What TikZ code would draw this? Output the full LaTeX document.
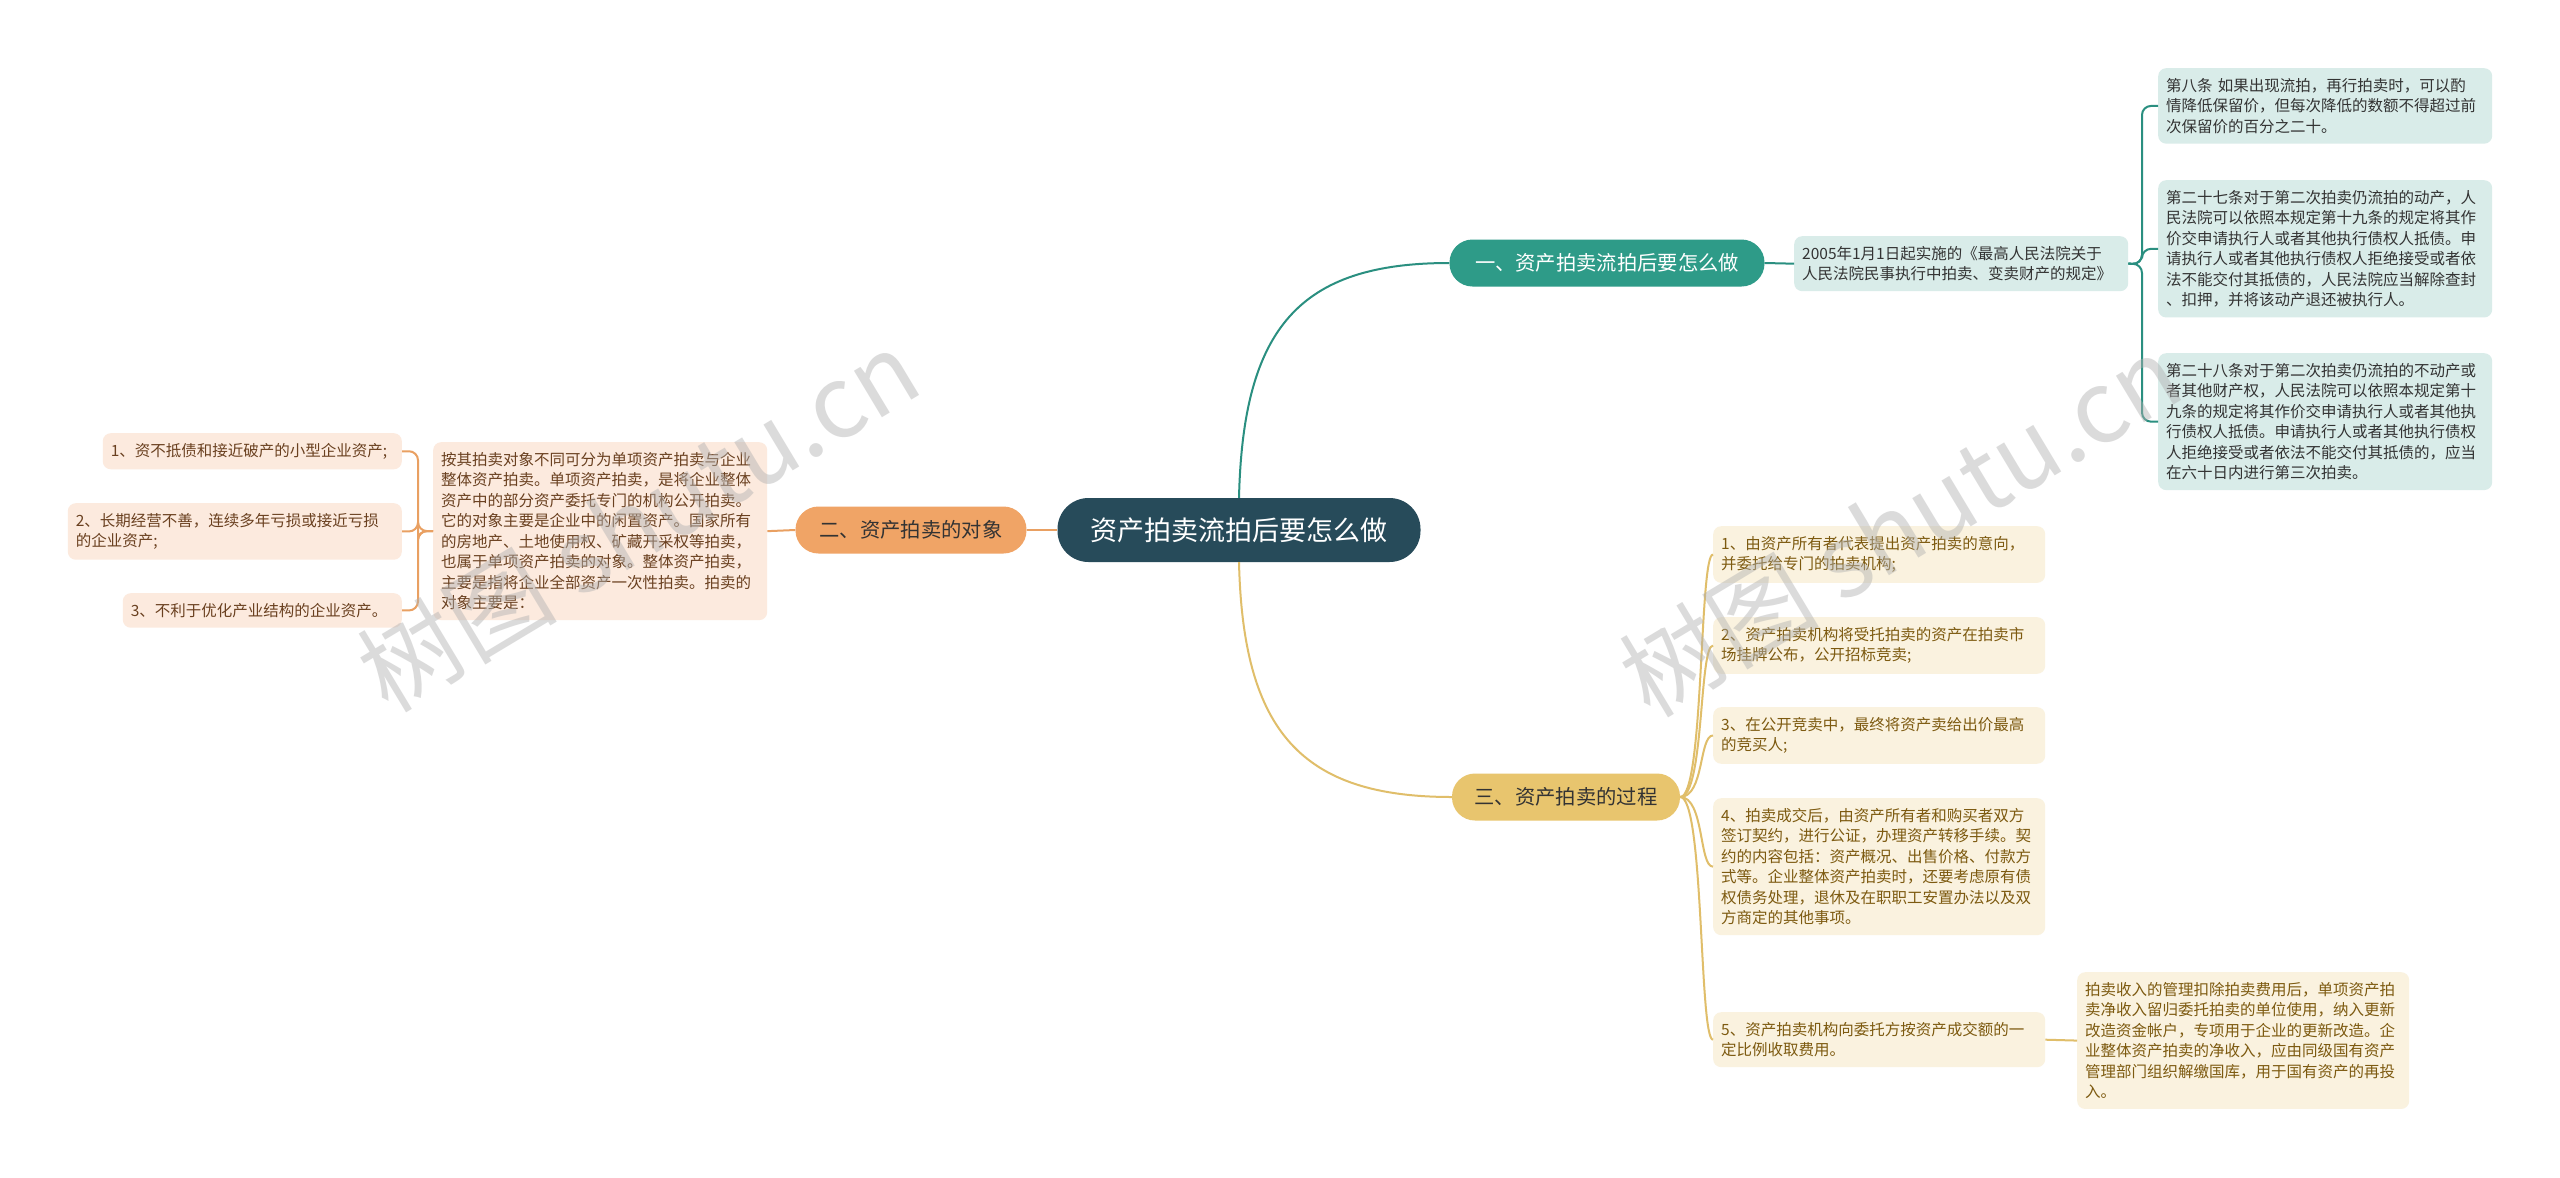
\documentclass[tikz,border=0pt]{standalone}
\usepackage{fontspec}
\newfontfamily\cjk{Noto Sans CJK SC}
\usetikzlibrary{calc}
\definecolor{centerc}{HTML}{274B5A}
\definecolor{tealb}{HTML}{2E9B88}
\definecolor{teall}{HTML}{2A8F80}
\definecolor{tealf}{HTML}{D9ECE9}
\definecolor{orab}{HTML}{F0A466}
\definecolor{oral}{HTML}{E9A062}
\definecolor{oraf}{HTML}{FCEADE}
\definecolor{orat}{HTML}{6A4020}
\definecolor{goldb}{HTML}{E8C56E}
\definecolor{goldl}{HTML}{E0BE6A}
\definecolor{goldf}{HTML}{FAF2DF}
\definecolor{goldt}{HTML}{7D5A10}
\definecolor{darkt}{HTML}{333333}
\definecolor{wmark}{HTML}{B0B0B0}
\begin{document}
\begin{tikzpicture}[x=1pt,y=-1pt,
  tbox/.style={rounded corners=8pt, inner xsep=8pt, inner ysep=10pt, align=left,
    font=\cjk\fontsize{15.5}{20.5}\selectfont, anchor=north west},
  tealbox/.style={tbox, fill=tealf, text=darkt},
  orabox/.style={tbox, fill=oraf, text=orat},
  goldbox/.style={tbox, fill=goldf, text=goldt},
  branch/.style={rounded corners=23pt, minimum height=47pt, inner sep=0pt,
    font=\cjk\fontsize{20.3}{24}\selectfont},
  tline/.style={draw=teall, line width=2pt},
  oline/.style={draw=oral, line width=2pt},
  gline/.style={draw=goldl, line width=2pt},
  wm/.style={text=wmark, opacity=0.45, font=\cjk\fontsize{100}{100}\selectfont, rotate=31}
]
\useasboundingbox (0,0) rectangle (2560,1178);
\fill[white] (0,0) rectangle (2560,1178);

% central node
\node[fill=centerc, text=white, rounded corners=31pt, minimum width=363pt, minimum height=64pt,
  inner sep=0pt, font=\cjk\fontsize{27}{30}\selectfont] (center) at (1239,530) {资产拍卖流拍后要怎么做};

% branches
\node[branch, fill=tealb, text=white, minimum width=315pt] (b1) at (1607,263) {一、资产拍卖流拍后要怎么做};
\node[branch, fill=orab, text=darkt, minimum width=231pt] (b2) at (911,530) {二、资产拍卖的对象};
\node[branch, fill=goldb, text=darkt, minimum width=228pt] (b3) at (1566,797) {三、资产拍卖的过程};

% branch 1 children
\node[tealbox, text width=318pt] (law) at (1794,236) {2005年1月1日起实施的《最高人民法院关于\\人民法院民事执行中拍卖、变卖财产的规定》};
\node[tealbox, text width=318pt] (a8) at (2158,68) {第八条 如果出现流拍，再行拍卖时，可以酌\\情降低保留价，但每次降低的数额不得超过前\\次保留价的百分之二十。};
\node[tealbox, text width=318pt] (a27) at (2158,180) {第二十七条对于第二次拍卖仍流拍的动产，人\\民法院可以依照本规定第十九条的规定将其作\\价交申请执行人或者其他执行债权人抵债。申\\请执行人或者其他执行债权人拒绝接受或者依\\法不能交付其抵债的，人民法院应当解除查封\\、扣押，并将该动产退还被执行人。};
\node[tealbox, text width=318pt] (a28) at (2158,353) {第二十八条对于第二次拍卖仍流拍的不动产或\\者其他财产权，人民法院可以依照本规定第十\\九条的规定将其作价交申请执行人或者其他执\\行债权人抵债。申请执行人或者其他执行债权\\人拒绝接受或者依法不能交付其抵债的，应当\\在六十日内进行第三次拍卖。};

% branch 2 children
\node[orabox, text width=318pt] (obj) at (433,442) {按其拍卖对象不同可分为单项资产拍卖与企业\\整体资产拍卖。单项资产拍卖，是将企业整体\\资产中的部分资产委托专门的机构公开拍卖。\\它的对象主要是企业中的闲置资产。国家所有\\的房地产、土地使用权、矿藏开采权等拍卖，\\也属于单项资产拍卖的对象。整体资产拍卖，\\主要是指将企业全部资产一次性拍卖。拍卖的\\对象主要是：};
\node[orabox, anchor=north east, text width=283pt] (o1) at (402,433) {1、资不抵债和接近破产的小型企业资产;};
\node[orabox, anchor=north east, text width=318pt] (o2) at (402,503) {2、长期经营不善，连续多年亏损或接近亏损\\的企业资产;};
\node[orabox, anchor=north east, text width=263pt] (o3) at (402,593) {3、不利于优化产业结构的企业资产。};

% branch 3 children
\node[goldbox, text width=316pt] (p1) at (1713,526) {1、由资产所有者代表提出资产拍卖的意向，\\并委托给专门的拍卖机构;};
\node[goldbox, text width=316pt] (p2) at (1713,617) {2、资产拍卖机构将受托拍卖的资产在拍卖市\\场挂牌公布，公开招标竞卖;};
\node[goldbox, text width=316pt] (p3) at (1713,707) {3、在公开竞卖中，最终将资产卖给出价最高\\的竞买人;};
\node[goldbox, text width=316pt] (p4) at (1713,798) {4、拍卖成交后，由资产所有者和购买者双方\\签订契约，进行公证，办理资产转移手续。契\\约的内容包括：资产概况、出售价格、付款方\\式等。企业整体资产拍卖时，还要考虑原有债\\权债务处理，退休及在职职工安置办法以及双\\方商定的其他事项。};
\node[goldbox, text width=316pt] (p5) at (1713,1012) {5、资产拍卖机构向委托方按资产成交额的一\\定比例收取费用。};
\node[goldbox, text width=316pt] (p6) at (2077,972) {拍卖收入的管理扣除拍卖费用后，单项资产拍\\卖净收入留归委托拍卖的单位使用，纳入更新\\改造资金帐户，专项用于企业的更新改造。企\\业整体资产拍卖的净收入，应由同级国有资产\\管理部门组织解缴国库，用于国有资产的再投\\入。};

% connectors: center to branches
\draw[tline] (center.north) .. controls +(4,-170) and +(-150,0) .. (b1.west);
\draw[gline] (center.south) .. controls +(4,170) and +(-150,0) .. (b3.west);
\draw[oline] (center.west) -- (b2.east);

% branch 1
\draw[tline] (b1.east) -- (law.west);
\coordinate (j1) at (2142,264);
\foreach \c in {a8,a27,a28}{
  \draw[tline, rounded corners=9pt] (law.east) -- (j1) |- (\c.west);
}

% branch 2
\draw[oline] (b2.west) -- (obj.east);
\coordinate (j2) at (418,531);
\foreach \c in {o1,o2,o3}{
  \draw[oline, rounded corners=9pt] (obj.west) -- (j2) |- (\c.east);
}

% branch 3
\foreach \c in {p1,p2,p3,p4,p5}{
  \draw[gline] (b3.east) .. controls +(24,0) and +(-14,0) .. (\c.west);
}
\draw[gline] (p5.east) -- (p6.west);

% watermarks
\node[wm] (wm1) at (638,520) {树图 shutu.cn};
\node[wm] (wm2) at (1900,525) {树图 shutu.cn};
\end{tikzpicture}
\end{document}
